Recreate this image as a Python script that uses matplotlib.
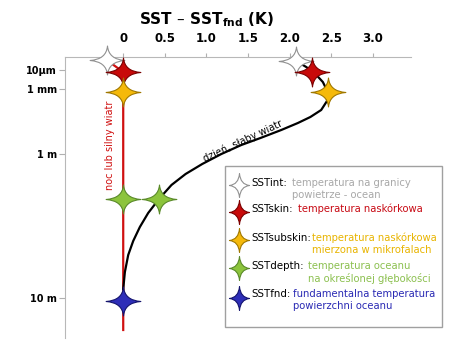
import matplotlib
matplotlib.use('Agg')
import matplotlib.pyplot as plt
from matplotlib.path import Path
from matplotlib.lines import Line2D
from matplotlib.patches import Rectangle

# depth axis (nominal positions, depth increases downwards)
depth_labels = ['10μm', '1 mm', '1 m', '10 m']
depth_pos = [13, 32, 97, 241]
sst_ticks = [0, 0.5, 1.0, 1.5, 2.0, 2.5, 3.0]
sst_ticklabels = ['0', '0.5', '1.0', '1.5', '2.0', '2.5', '3.0']

# the five SST definitions
sst_names = ['SSTint:', 'SSTskin:', 'SSTsubskin:', 'SSTdepth:', 'SSTfnd:']
sst_desc = [['temperatura na granicy', 'powietrze - ocean'],
            ['temperatura naskórkowa'],
            ['temperatura naskórkowa', 'mierzona w mikrofalach'],
            ['temperatura oceanu', 'na określonej głębokości'],
            ['fundamentalna temperatura', 'powierzchni oceanu']]
star_face = ['white', '#c80a0a', '#f5b90a', '#8cc43c', '#2e2eb8']
star_edge = ['#909090', '#7a0000', '#a07800', '#5a8a2a', '#14146e']
desc_color = ['#a8a8a8', '#c80a14', '#e8b400', '#8cc050', '#2a2ab4']

# star positions, night / strong wind
night_x = [-0.2, 0.0, 0.0, 0.0, 0.0]
night_y = [3, 15, 35, 142, 244]
# star positions, day / weak wind (fnd shared with night)
day_x = [2.08, 2.27, 2.46, 0.43]
day_y = [4, 15, 35, 142]

# profiles
night_line_x = [-0.2, 0.0, 0.0]
night_line_y = [3, 15, 273]
day_line_x = [2.08, 2.20, 2.30, 2.40, 2.46, 2.45, 2.38, 2.25, 2.10, 1.90, 1.65, 1.42,
              1.18, 0.95, 0.75, 0.58, 0.43, 0.30, 0.20, 0.12, 0.06, 0.02, 0.0]
day_line_y = [4, 10, 16, 25, 35, 44, 53, 60, 66, 73, 81, 88,
              97, 107, 117, 128, 142, 156, 170, 184, 198, 215, 232]


def star(wx, wy, k=0.08):
    verts = [(0, wy), (k, k), (wx, 0), (k, -k), (0, -wy), (-k, -k), (-wx, 0), (-k, k), (0, wy), (0, wy)]
    codes = [Path.MOVETO] + [Path.CURVE3] * 8 + [Path.CLOSEPOLY]
    return Path(verts, codes)


star_h = star(1.2, 1.0)
star_v = star(0.85, 1.0)

fig = plt.figure(figsize=(4.74, 3.47), dpi=100)
ax = fig.add_axes([65 / 474, 1 - 338 / 347, 346 / 474, 281 / 347])

ax.plot(night_line_x, night_line_y, color='#d01010', lw=1.6, zorder=2)
ax.plot(day_line_x, day_line_y, color='black', lw=1.6, zorder=2)

for i in range(5):
    ax.plot(night_x[i], night_y[i], marker=star_h, ms=25, mfc=star_face[i], mec=star_edge[i],
            mew=0.8, ls='none', zorder=3, clip_on=False)
for i in range(4):
    ax.plot(day_x[i], day_y[i], marker=star_h, ms=25, mfc=star_face[i], mec=star_edge[i],
            mew=0.8, ls='none', zorder=3, clip_on=False)

ax.text(-0.16, 88, 'noc lub silny wiatr', color='#d01010', rotation=90, fontsize=7,
        ha='center', va='center')
ax.text(1.44, 84, 'dzień, słaby wiatr', color='black', rotation=25, fontsize=7,
        ha='center', va='center')

ax.set_xlim(-0.70, 3.46)
ax.set_ylim(281, 0)
ax.xaxis.tick_top()
ax.set_xticks(sst_ticks)
ax.set_xticklabels(sst_ticklabels, fontsize=8.5, fontweight='bold')
ax.set_yticks(depth_pos)
ax.set_yticklabels(depth_labels, fontsize=7, fontweight='bold')
ax.tick_params(axis='x', length=3, color='#b0b0b0', pad=6)
ax.tick_params(axis='y', length=4, color='#b0b0b0', pad=2)
for s in ['right', 'bottom']:
    ax.spines[s].set_visible(False)
for s in ['top', 'left']:
    ax.spines[s].set_color('#b8b8b8')

fig.text(207 / 474, 1 - 20 / 347, r'SST – SST$_\mathbf{fnd}$ (K)', fontsize=11,
         fontweight='bold', ha='center', va='center')

# legend box
fig.add_artist(Rectangle((225 / 474, 1 - 327 / 347), 217 / 474, 161 / 347,
                         transform=fig.transFigure, facecolor='white', edgecolor='#a0a0a0',
                         lw=1, zorder=4))
star_py = [185, 212, 240, 268, 298]
name_py = [183, 209, 238, 266, 294]
desc_px = [292, 298, 312, 308, 293]
for i in range(5):
    fig.add_artist(Line2D([239 / 474], [1 - star_py[i] / 347], marker=star_v, ms=17,
                          mfc=star_face[i], mec=star_edge[i], mew=0.8, ls='none',
                          transform=fig.transFigure, zorder=5))
    fig.text(251 / 474, 1 - name_py[i] / 347, sst_names[i], fontsize=7.4,
             color='black', ha='left', va='center', zorder=5)
    for j, line in enumerate(sst_desc[i]):
        fig.text(desc_px[i] / 474, 1 - (name_py[i] + 12 * j) / 347, line, fontsize=7.2,
                 color=desc_color[i], ha='left', va='center', zorder=5)

fig.savefig('out.png', dpi=100)
